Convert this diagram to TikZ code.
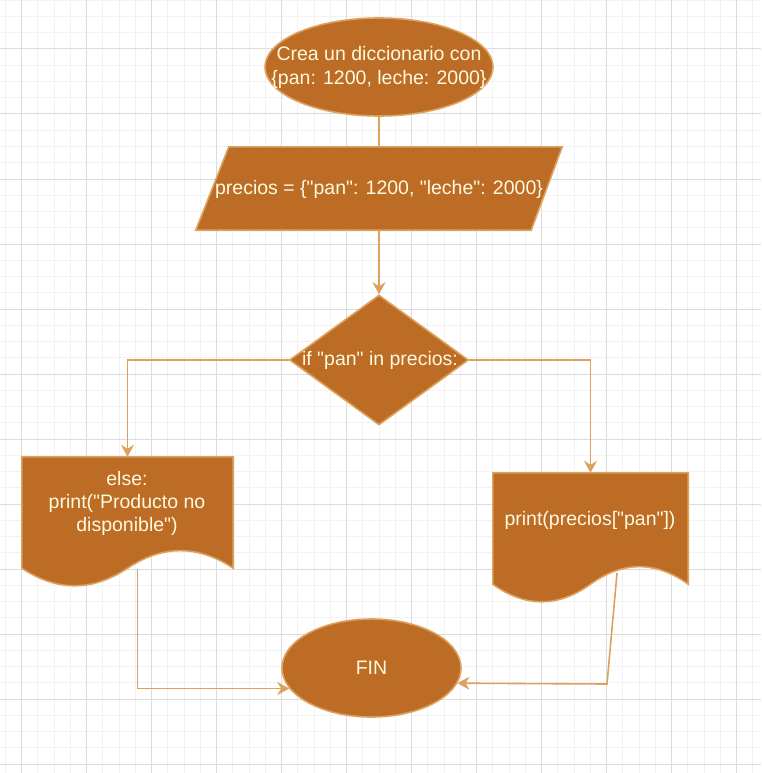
\documentclass[tikz,border=0pt]{standalone}
\usepackage{fontspec}
\setmainfont{Liberation Sans}[Ligatures=TeXOff]
\usetikzlibrary{arrows.meta,shapes.geometric,calc}
\definecolor{brownfill}{HTML}{BC6C25}
\definecolor{tanline}{HTML}{DDA15E}
\definecolor{creamtext}{HTML}{FEFAE0}
\definecolor{gridminor}{HTML}{F2F2F2}
\definecolor{gridmajor}{HTML}{DCDCDC}
\tikzset{
  shapebox/.style = {fill=brownfill, draw=tanline, line width=1.6pt, inner sep=0pt},
  termnode/.style = {shapebox, ellipse},
  decision/.style = {shapebox, diamond},
  areabox/.style  = {inner sep=0pt},
  docshape/.style = {fill=brownfill, draw=tanline, line width=1.6pt},
  lbl/.style      = {text=creamtext, font=\fontsize{19.5}{23.4}\selectfont,
                     align=center, inner sep=0pt},
  flow/.style     = {-{Stealth[length=12pt,width=13pt,inset=4pt]}, tanline, line width=1.6pt},
  link/.style     = {tanline, line width=1.6pt}
}

\begin{document}
\begin{tikzpicture}[x=1pt,y=-1pt]
  % background grid
  \fill[white] (0,0) rectangle (761,773);
  \useasboundingbox (0,0) rectangle (761,773);
  \foreach \k in {-1,...,45} { \draw[gridminor,line width=1pt] ({21.5+16.25*\k},0) -- ++(0,773); }
  \foreach \k in {-3,...,44} { \draw[gridminor,line width=1pt] (0,{49+16.25*\k}) -- ++(761,0); }
  \foreach \k in {0,...,11} { \draw[gridmajor,line width=1pt] ({21.5+65*\k},0) -- ++(0,773);
        \draw[gridmajor,line width=1pt] (0,{49+65*\k}) -- ++(761,0); }

  % shapes
  \node[termnode, minimum width=228pt, minimum height=98pt] (top) at (379,67) {};
  \node[lbl] (toptxt) at (379,67.5) {Crea un diccionario con\\\{pan: 1200, leche: 2000\}};

  \node[areabox, minimum width=366pt, minimum height=83pt] (para) at (379,188.5) {};
  \draw[docshape] ($(para.north west)+(33,0)$) -- (para.north east)
    -- ($(para.south east)+(-31,0)$) -- (para.south west) -- cycle;
  \node[lbl] (paratxt) at (379,189) {precios = \{"pan": 1200, "leche": 2000\}};

  \node[decision, minimum width=179pt, minimum height=130pt] (cond) at (379,360) {};
  \node[lbl] (condtxt) at (380,360) {if "pan" in precios:};

  \node[areabox, minimum width=211pt, minimum height=111pt] (no) at (127.5,512.5) {};
  \draw[docshape] (no.north west) -- (no.north east) -- (no.south east)
    .. controls ($(no.south east)+(-35.2,-23.4)$) and ($(no.south)+(35.2,-23.4)$) .. (no.south)
    .. controls ($(no.south)+(-35.2,23.4)$) and ($(no.south west)+(35.2,23.4)$) .. (no.south west) -- cycle;
  \node[lbl] (notxt) at (127,503.5) {else:\\print("Producto no\\disponible")};

  \node[areabox, minimum width=195pt, minimum height=111pt] (yes) at (590.5,528.5) {};
  \draw[docshape] (yes.north west) -- (yes.north east) -- (yes.south east)
    .. controls ($(yes.south east)+(-32.5,-23.4)$) and ($(yes.south)+(32.5,-23.4)$) .. (yes.south)
    .. controls ($(yes.south)+(-32.5,23.4)$) and ($(yes.south west)+(32.5,23.4)$) .. (yes.south west) -- cycle;
  \node[lbl] (yestxt) at (590,520) {print(precios["pan"])};

  \node[termnode, lbl, minimum width=179pt, minimum height=98pt] (fin) at (371.5,668) {FIN};

  % connectors
  \coordinate (noout) at ($(no.south)+(10,1)$);
  \coordinate (yesout) at ($(yes.south)+(26.5,-11)$);
  \coordinate (bend) at (607,684);
  \draw[link] (top.south) -- (top.south |- para.north);
  \draw[flow] (cond.north |- para.south) -- (cond.north);
  \draw[flow] (cond.west) -| (no.north);
  \draw[flow] (cond.east) -| (yes.north);
  \draw[flow] (noout) |- (fin.194);
  \draw[flow] (yesout) -- (bend) -- (fin.350);
\end{tikzpicture}
\end{document}
